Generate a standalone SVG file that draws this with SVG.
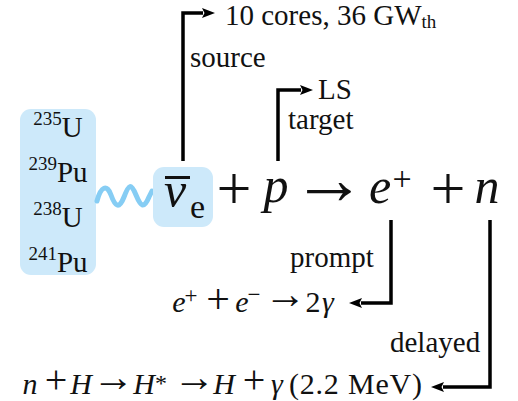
<svg xmlns="http://www.w3.org/2000/svg" width="518" height="401" viewBox="0 0 518 401">
<style>
text{font-family:"Liberation Serif","Times New Roman",serif;fill:#111;}
.lbl{font-size:29px;}
.iso{font-size:29px;}
.sup{font-size:19px;}
.eq{font-size:50px;text-anchor:middle;}
.op{font-size:62px;text-anchor:middle;}
.arr{font-size:74px;text-anchor:middle;}
.s{font-size:30px;text-anchor:middle;}
.sop{font-size:42px;text-anchor:middle;}
.it{font-style:italic;}
.conn{fill:none;stroke:#000;stroke-width:3.5;stroke-linejoin:miter;}
.hl{fill:#cde9fa;}
</style>
<defs>
<marker id="ah" viewBox="0 0 13 10" refX="1" refY="5" markerWidth="13" markerHeight="10" markerUnits="userSpaceOnUse" orient="auto">
<path d="M0,0 L13,5 L0,10 L2.5,5 z" fill="#000"/>
</marker>
</defs>

<g id="isotopes">
<rect class="hl" x="20" y="109" width="76" height="166" rx="11"/>
<text class="iso" x="58" y="137" text-anchor="middle"><tspan class="sup" dy="-12">235</tspan><tspan dy="12">U</tspan></text>
<text class="iso" x="58" y="182" text-anchor="middle"><tspan class="sup" dy="-12">239</tspan><tspan dy="12">Pu</tspan></text>
<text class="iso" x="58" y="227" text-anchor="middle"><tspan class="sup" dy="-12">238</tspan><tspan dy="12">U</tspan></text>
<text class="iso" x="58" y="272" text-anchor="middle"><tspan class="sup" dy="-12">241</tspan><tspan dy="12">Pu</tspan></text>
</g>

<g id="wave">
<path d="M97,201 C101,186 107,184 111,195 S119,210 124,197 S131,183 136,195 S144,209 149,197 L152,191" fill="none" stroke="#86cdf4" stroke-width="5" stroke-linecap="round"/>
</g>

<g id="antineutrino">
<rect class="hl" x="153" y="167" width="60" height="60" rx="11"/>
<rect x="165" y="176" width="25" height="3" fill="#111"/>
<text class="it" x="164" y="207" style="font-size:50px">ν</text>
<text x="190" y="218" style="font-size:34px">e</text>
</g>

<g id="equation">
<text class="op" x="234" y="209">+</text>
<text class="eq it" x="276" y="202">p</text>
<text class="arr" x="329" y="204">→</text>
<text class="eq it" x="380" y="203">e</text>
<text class="s" x="402" y="190" style="font-size:34px">+</text>
<text class="op" x="448" y="209">+</text>
<text class="eq it" x="487" y="203">n</text>
</g>

<g id="source-label">
<text class="lbl" x="225" y="25">10 cores, 36 GW<tspan dy="3" style="font-size:19px">th</tspan></text>
<text class="lbl" x="190" y="67">source</text>
</g>

<g id="target-label">
<text class="lbl" x="318" y="99">LS</text>
<text class="lbl" x="288" y="129">target</text>
</g>

<g id="prompt">
<text class="lbl" x="290" y="267">prompt</text>
<text class="s it" x="179" y="312">e</text>
<text class="s" x="191" y="303" style="font-size:23px">+</text>
<text class="sop" x="218" y="313">+</text>
<text class="s it" x="242" y="312">e</text>
<text class="s" x="254" y="302" style="font-size:23px">−</text>
<text class="sop" x="285" y="308">→</text>
<text class="s" x="313" y="312">2</text>
<text class="s it" x="328" y="312">γ</text>
</g>

<g id="delayed">
<text class="lbl" x="390" y="352">delayed</text>
<text class="s it" x="30" y="394">n</text>
<text class="sop" x="56" y="393" style="font-size:40px">+</text>
<text class="s it" x="81" y="394">H</text>
<text class="sop" x="113" y="391">→</text>
<text class="s it" x="144" y="394">H</text>
<text class="s" x="161" y="391" style="font-size:24px">*</text>
<text class="sop" x="194" y="391">→</text>
<text class="s it" x="224" y="394">H</text>
<text class="sop" x="254" y="393" style="font-size:40px">+</text>
<text class="s it" x="277" y="394">γ</text>
<text x="289" y="394" style="font-size:30px" textLength="133" lengthAdjust="spacing">(2.2 MeV)</text>
</g>

<g id="connectors">
<path class="conn" d="M183,161 V13 H203" marker-end="url(#ah)"/>
<path class="conn" d="M278,161 V90 H301" marker-end="url(#ah)"/>
<path class="conn" d="M391,220 V303 H361" marker-end="url(#ah)"/>
<path class="conn" d="M490,220 V387 H443" marker-end="url(#ah)"/>
</g>
</svg>
